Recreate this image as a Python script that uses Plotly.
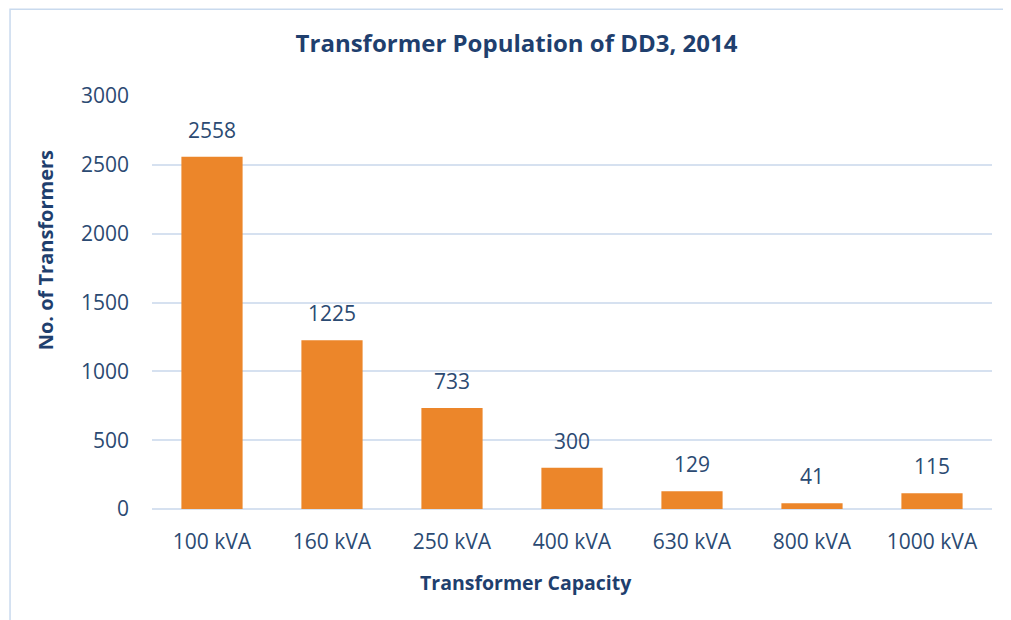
import plotly.graph_objects as go

categories = ["100 kVA", "160 kVA", "250 kVA", "400 kVA", "630 kVA", "800 kVA", "1000 kVA"]
transformers = [2558, 1225, 733, 300, 129, 41, 115]
y_ticks = [0, 500, 1000, 1500, 2000, 2500, 3000]

text_color = "#2B4A72"
title_color = "#1F3F6E"
grid_color = "#D6E1F0"

fig = go.Figure()
fig.add_trace(go.Bar(
    x=categories,
    y=transformers,
    marker=dict(color="#EC862A", line=dict(width=0)),
    hoverinfo="x+y",
))

for c, v in zip(categories, transformers):
    fig.add_annotation(x=c, y=v, text=str(v), showarrow=False, yshift=27,
                       font=dict(family="Open Sans", size=21, color=text_color))

# axis titles (placed as in the reference, off-centre)
fig.add_annotation(xref="paper", yref="paper", x=-0.127, y=0.627, text="<b>No. of Transformers</b>",
                   textangle=-90, showarrow=False, xanchor="center", yanchor="middle",
                   font=dict(family="Open Sans", size=20, color=title_color))
fig.add_annotation(xref="paper", yref="paper", x=0.445, y=-0.177, text="<b>Transformer Capacity</b>",
                   showarrow=False, xanchor="center", yanchor="middle",
                   font=dict(family="Open Sans", size=19.5, color=title_color))

fig.add_shape(type="rect", xref="paper", yref="paper", x0=-0.169, x1=1.2, y0=-0.5, y1=1.21,
              line=dict(color="#C9DAEE", width=1.5), fillcolor="rgba(0,0,0,0)", layer="below")

fig.update_layout(
    width=1011, height=620,
    paper_bgcolor="white", plot_bgcolor="white",
    margin=dict(l=144, r=27, t=88, b=119),
    bargap=0.49,
    showlegend=False,
    title=dict(text="<b>Transformer Population of DD3, 2014</b>", x=0.503, xanchor="center",
               y=0.942, yanchor="middle",
               font=dict(family="Open Sans", size=24, color=title_color)),
    xaxis=dict(
        tickfont=dict(family="Open Sans", size=21, color=text_color),
        showgrid=False, showline=False, ticks="", ticklabelstandoff=18,
    ),
    yaxis=dict(
        range=[0, 3000], tickvals=y_ticks,
        tickfont=dict(family="Open Sans", size=21, color=text_color),
        showgrid=True, gridcolor=grid_color, gridwidth=1.5,
        zeroline=True, zerolinecolor=grid_color, zerolinewidth=1.5,
        showline=False, ticks="", ticklabelstandoff=22,
    ),
)

fig.write_html("out.html")
